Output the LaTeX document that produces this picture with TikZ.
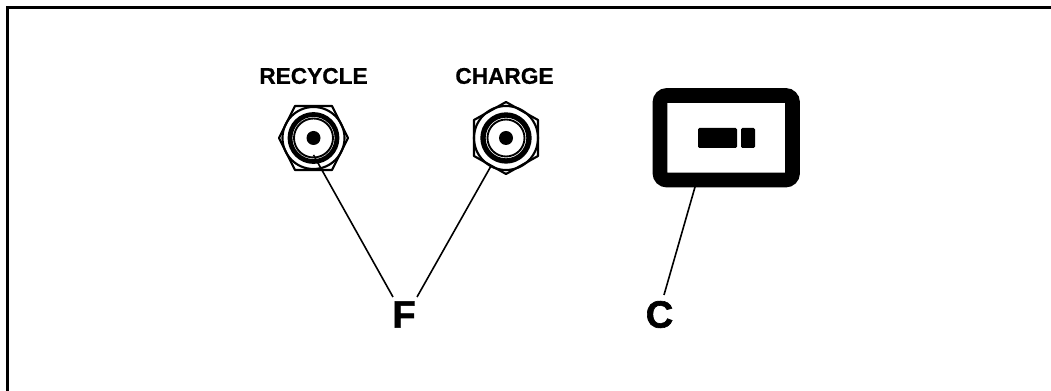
\documentclass[tikz,border=0pt]{standalone}
\usepackage{fontspec}
\setmainfont{Liberation Sans}
\newfontfamily\heavyfont[FakeBold=0.6]{Liberation Sans Bold}
\newfontfamily\heavierfont[FakeBold=1.6]{Liberation Sans Bold}
\begin{document}
\begin{tikzpicture}[x=0.75pt,y=-0.75pt,
  lead/.style={line width=1.2pt,black},
  lab/.style={inner sep=0pt,font=\fontsize{17}{19}\selectfont\heavyfont},
  big/.style={inner sep=0pt,font=\fontsize{28.5}{30}\selectfont\heavierfont},
  nut/.style={line width=1.6pt,line join=round},
  collar/.style={line width=1.6pt},
  ring/.style={line width=3.6pt},
  inner ring/.style={line width=1.4pt}]
\useasboundingbox (0,0) rectangle (1051,391);
\draw[line width=2.2pt,black] (7.5,391) -- (7.5,7.5) -- (1051,7.5);
\node[lab] (rl) at (313.5,76) {RECYCLE};
\node[lab] (cl) at (504.5,76) {CHARGE};
% recycle fitting
\coordinate (r) at (313.5,138);
\draw[nut] (279,138) -- (295,106) -- (332,106) -- (348,138) -- (332,170) -- (295,170) -- cycle;
\draw[collar] (r) circle (31);
\draw[ring] (r) circle (23.5);
\draw[inner ring] (r) circle (19.5);
\fill (r) circle (7);
% charge fitting
\coordinate (c) at (506,138);
\draw[nut] (506,102) -- (538,120) -- (538,156) -- (506,174) -- (474,156) -- (474,120) -- cycle;
\draw[collar] (c) circle (32);
\draw[ring,line width=4pt] (c) circle (23);
\draw[inner ring] (c) circle (18.5);
\fill (c) circle (7);
% meter
\draw[line width=11pt,rounded corners=5pt] (660,95.5) rectangle (792.5,180);
\fill[rounded corners=1pt] (698,128) rectangle (737,148);
\fill[rounded corners=1pt] (741,128) rectangle (755,148);
% labels
\node[big] (F) at (404,314.5) {F};
\node[big] (C) at (659.5,314.5) {C};
\coordinate (r1) at (313.5,155);
\coordinate (r2) at (393,297);
\coordinate (c1) at (491,166);
\coordinate (c2) at (417,297);
\coordinate (m1) at (695,187);
\coordinate (m2) at (664,295);
\draw[lead] (r1) -- (r2);
\draw[lead] (c1) -- (c2);
\draw[lead] (m1) -- (m2);
\end{tikzpicture}
\end{document}
